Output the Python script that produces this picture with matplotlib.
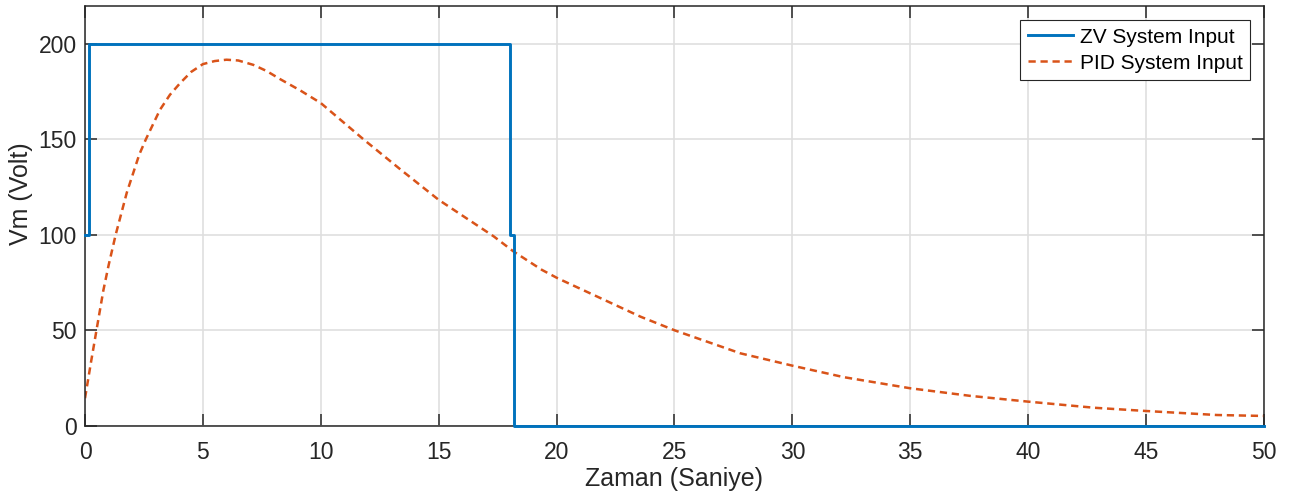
import matplotlib
matplotlib.use("Agg")
import matplotlib.pyplot as plt

# ZV shaped input (step levels)
zv_t = [0.0, 0.18, 18.03, 18.20, 50.0]
zv_v = [100, 200, 100, 0, 0]

# PID controller output
pid_t = [0.0, 0.25, 0.5, 0.78, 1.0, 1.3, 1.77, 2.3, 2.58, 3.18, 3.6, 4.03, 4.5, 5.0, 5.5, 6.0,
         6.5, 7.14, 7.7, 8.28, 9.13, 10.0, 11.81, 13.4, 15.0, 17.33, 18.18, 19.38, 20.05,
         23.56, 25.04, 27.8, 30.05, 32.19, 35.0, 37.56, 40.0, 42.8, 45.0, 48.0, 50.0]
pid_v = [14.4, 33.0, 51.0, 71.0, 84.0, 100.0, 122.0, 142.0, 150.0, 165.5, 173.3, 179.4, 185.3, 189.4, 191.0, 191.7,
         191.3, 189.0, 185.8, 181.5, 175.6, 169.0, 150.0, 134.0, 118.3, 99.2, 91.2, 81.6, 77.2,
         57.1, 49.8, 37.9, 31.3, 25.4, 19.6, 15.6, 12.6, 9.4, 7.7, 5.6, 5.1]

x_ticks = list(range(0, 51, 5))
y_ticks = [0, 50, 100, 150, 200]

plt.rcParams['font.family'] = ['Liberation Sans', 'DejaVu Sans']

fig = plt.figure(figsize=(12.92, 4.99), dpi=100)
ax = fig.add_axes([0.0658, 0.1469, 0.9125, 0.8417])

ax.plot(zv_t, zv_v, drawstyle='steps-post', color='#0072BD', lw=2.1,
        label='ZV System Input', zorder=4, clip_on=False)
ax.plot(pid_t, pid_v, color='#D95319', lw=1.8, dashes=(2.9, 1.9),
        label='PID System Input', zorder=3)

ax.set_xlim(0, 50)
ax.set_ylim(0, 220)
ax.set_xticks(x_ticks)
ax.set_yticks(y_ticks)
ax.grid(True, color='#DFDFDF', lw=1.2)
ax.set_axisbelow(True)

for s in ax.spines.values():
    s.set_color('#262626')
    s.set_linewidth(1.1)
    s.set_zorder(3.5)

ax.tick_params(direction='in', length=8.5, width=1.1, color='#262626',
               labelsize=16.5, labelcolor='#262626', top=True, right=True)
ax.tick_params(axis='x', pad=11)
ax.tick_params(axis='y', pad=6)

ax.set_xlabel('Zaman (Saniye)', fontsize=18, color='#262626', va='top')
ax.xaxis.set_label_coords(0.5, -0.098)
ax.set_ylabel('Vm (Volt)', fontsize=18, color='#262626')
ax.yaxis.set_label_coords(-0.0441, 0.552)

leg = ax.legend(loc='upper right', bbox_to_anchor=(0.988, 0.965), fontsize=15,
                frameon=True, fancybox=False, handlelength=2.2, handletextpad=0.3,
                borderpad=0.35, labelspacing=0.34, borderaxespad=0)
leg.get_frame().set_edgecolor('#262626')
leg.get_frame().set_linewidth(0.8)
leg.get_frame().set_alpha(1)

fig.savefig('out.png', dpi=100)
